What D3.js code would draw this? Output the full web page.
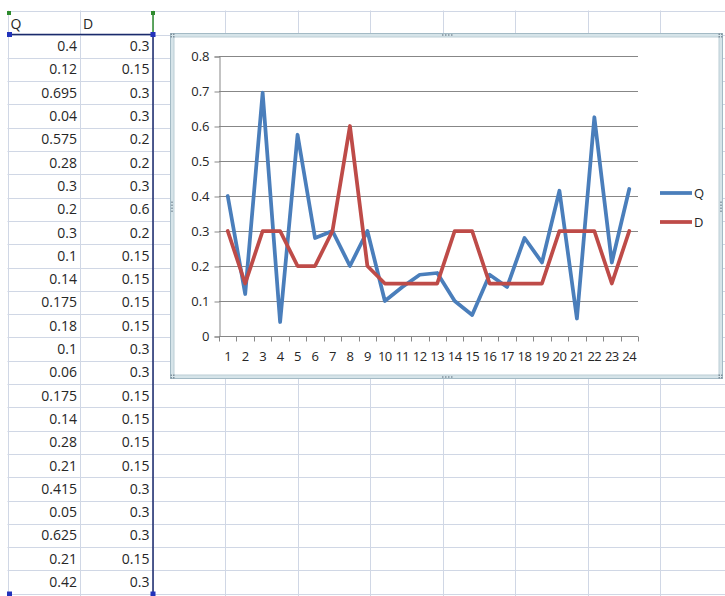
<!DOCTYPE html>
<html>
<head>
<meta charset="utf-8">
<script src="https://cdn.jsdelivr.net/npm/d3@7"></script>
<style>
  html, body { margin: 0; padding: 0; background: #fff; }
  svg { display: block; }
  text { font-family: "Open Sans", "DejaVu Sans", sans-serif; }
</style>
</head>
<body>
<svg id="sheet" width="725" height="596"></svg>
<script>
// Worksheet data: column headers and the two series
const headers = ["Q", "D"];
const categories = d3.range(1, 25);
const qValues = [0.4, 0.12, 0.695, 0.04, 0.575, 0.28, 0.3, 0.2, 0.3, 0.1, 0.14, 0.175,
                 0.18, 0.1, 0.06, 0.175, 0.14, 0.28, 0.21, 0.415, 0.05, 0.625, 0.21, 0.42];
const dValues = [0.3, 0.15, 0.3, 0.3, 0.2, 0.2, 0.3, 0.6, 0.2, 0.15, 0.15, 0.15,
                 0.15, 0.3, 0.3, 0.15, 0.15, 0.15, 0.15, 0.3, 0.3, 0.3, 0.15, 0.3];
const yTicks = [0, 0.1, 0.2, 0.3, 0.4, 0.5, 0.6, 0.7, 0.8];

const series = [
  { name: "Q", values: qValues, color: "#4A7EBB" },
  { name: "D", values: dValues, color: "#BE4B48" }
];

const textColor = "#262626";
const svg = d3.select("#sheet");

// ---- spreadsheet grid ----
const colWidth = 72.5, gridLeft = 7.5;
const colEdges = d3.range(0, 11).map(i => gridLeft + i * colWidth);
const rowTop = 10.5, headerBottom = 34.5, rowH = 23.3;
const rowScale = d3.scaleBand().domain(d3.range(24)).range([headerBottom, headerBottom + 24 * rowH]);

const grid = svg.append("g").attr("stroke", "#D0D7E5").attr("stroke-width", 1);
grid.selectAll("line.v").data(colEdges).join("line")
  .attr("x1", d => Math.round(d) + 0.5).attr("x2", d => Math.round(d) + 0.5)
  .attr("y1", rowTop).attr("y2", 596);
const rowEdges = [rowTop, headerBottom].concat(d3.range(1, 25).map(i => headerBottom + i * rowH));
grid.selectAll("line.h").data(rowEdges).join("line")
  .attr("x1", gridLeft).attr("x2", 725)
  .attr("y1", d => Math.round(d) + 0.5).attr("y2", d => Math.round(d) + 0.5);

// header cells
svg.append("g").selectAll("text").data(headers).join("text")
  .attr("x", (d, i) => colEdges[i] + 3)
  .attr("y", 29)
  .attr("font-size", 14).attr("fill", textColor)
  .text(d => d);

// numeric cells, right aligned
const cols = [qValues, dValues];
cols.forEach((vals, ci) => {
  svg.append("g").selectAll("text").data(vals).join("text")
    .attr("x", colEdges[ci + 1] - 3)
    .attr("y", (d, i) => rowScale(i) + rowH / 2 + 5)
    .attr("text-anchor", "end")
    .attr("font-size", 14).attr("fill", textColor)
    .text(d => String(d));
});

// range highlight: series names (green) and values (blue)
const selR = colEdges[2] + 0.5;
svg.append("line").attr("x1", selR).attr("x2", selR).attr("y1", 12).attr("y2", headerBottom)
  .attr("stroke", "#2E8B2E").attr("stroke-width", 1.5);
svg.append("path")
  .attr("d", `M${gridLeft},${headerBottom}H${selR}V${headerBottom + 24 * rowH}`)
  .attr("fill", "none").attr("stroke", "#1A2A6C").attr("stroke-width", 1.5);
[[gridLeft + 1.5, 13], [selR, 13]].forEach(p =>
  svg.append("rect").attr("x", p[0] - 2).attr("y", p[1] - 2).attr("width", 4).attr("height", 4).attr("fill", "#2E8B2E"));
[[gridLeft + 2, headerBottom], [selR, headerBottom], [gridLeft + 2, 594], [selR, 594]].forEach(p =>
  svg.append("rect").attr("x", p[0] - 2.5).attr("y", p[1] - 2.5).attr("width", 5).attr("height", 5).attr("fill", "#2233BB"));

// ---- chart object ----
const frame = { x: 170.5, y: 33.5, w: 552, h: 345 };
svg.append("rect").attr("x", frame.x).attr("y", frame.y).attr("width", frame.w).attr("height", frame.h)
  .attr("fill", "#D6E4E9").attr("stroke", "#A3BAC5");
svg.append("rect").attr("x", frame.x + 3.5).attr("y", frame.y + 3.5).attr("width", frame.w - 7).attr("height", frame.h - 7)
  .attr("fill", "#fff").attr("stroke", "#BBCDD5");

// resize handle dots
const dotColor = "#7F909C";
function dots(cx, cy, vertical) {
  d3.range(4).forEach(k => {
    svg.append("rect")
      .attr("x", vertical ? cx - 0.75 : cx - 4.5 + k * 3)
      .attr("y", vertical ? cy - 4.5 + k * 3 : cy - 0.75)
      .attr("width", 1.5).attr("height", 1.5).attr("fill", dotColor);
  });
}
dots(frame.x + frame.w / 2, frame.y + 1.5, false);
dots(frame.x + frame.w / 2, frame.y + frame.h - 1.5, false);
dots(frame.x + 1.5, frame.y + frame.h / 2, true);
dots(frame.x + frame.w - 1.5, frame.y + frame.h / 2, true);
[[frame.x + 2, frame.y + 2], [frame.x + frame.w - 2, frame.y + 2],
 [frame.x + 2, frame.y + frame.h - 2], [frame.x + frame.w - 2, frame.y + frame.h - 2]].forEach(p => {
  [[0, 0], [2.5, 0], [0, 2.5], [2.5, 2.5]].forEach(o =>
    svg.append("rect").attr("x", p[0] - 2 + o[0]).attr("y", p[1] - 2 + o[1])
      .attr("width", 1.5).attr("height", 1.5).attr("fill", dotColor));
});

// plot area
const plot = { left: 219, right: 638, top: 56, bottom: 336 };
const x = d3.scaleBand().domain(categories).range([plot.left, plot.right]).padding(0);
const y = d3.scaleLinear().domain([0, 0.8]).range([plot.bottom, plot.top]);

const chart = svg.append("g");

// horizontal gridlines
chart.append("g").selectAll("line").data(yTicks.filter(t => t > 0)).join("line")
  .attr("x1", plot.left).attr("x2", plot.right)
  .attr("y1", d => Math.round(y(d)) + 0.5).attr("y2", d => Math.round(y(d)) + 0.5)
  .attr("stroke", "#878787").attr("stroke-width", 1);

// y axis
const yAxis = chart.append("g")
  .attr("transform", `translate(${plot.left + 0.5},0.5)`)
  .call(d3.axisLeft(y).tickValues(yTicks).tickFormat(d => d === 0 ? "0" : d3.format(".1f")(d)).tickSize(5).tickPadding(5));
yAxis.select(".domain").attr("stroke", "#878787");
yAxis.selectAll(".tick line").attr("stroke", "#878787");
yAxis.selectAll(".tick text").attr("font-size", 13).attr("fill", textColor)
  .attr("font-family", "'Open Sans', sans-serif");

// x axis with ticks on category boundaries
const xAxis = chart.append("g")
  .attr("transform", `translate(0,${plot.bottom + 0.5})`)
  .call(d3.axisBottom(x).tickSize(0).tickPadding(15));
xAxis.select(".domain").attr("stroke", "#878787").attr("d", `M${plot.left},0H${plot.right}`);
xAxis.selectAll(".tick text").attr("font-size", 13).attr("fill", textColor)
  .attr("font-family", "'Open Sans', sans-serif").attr("letter-spacing", -0.5);
const boundaries = categories.map(c => x(c)).concat([plot.right]);
xAxis.append("g").selectAll("line").data(boundaries).join("line")
  .attr("x1", d => Math.round(d) + 0.5).attr("x2", d => Math.round(d) + 0.5)
  .attr("y1", 0).attr("y2", 5).attr("stroke", "#878787");

// series lines
const line = d3.line()
  .x((d, i) => x(categories[i]) + x.bandwidth() / 2)
  .y(d => y(d));
chart.append("g").selectAll("path").data(series).join("path")
  .attr("d", s => line(s.values))
  .attr("fill", "none")
  .attr("stroke", s => s.color)
  .attr("stroke-width", 3.75)
  .attr("stroke-linejoin", "round")
  .attr("stroke-linecap", "round");

// legend
const legend = chart.append("g").selectAll("g").data(series).join("g")
  .attr("transform", (d, i) => `translate(660,${193 + i * 29})`);
legend.append("line").attr("x1", 0).attr("x2", 32).attr("y1", 0).attr("y2", 0)
  .attr("stroke", d => d.color).attr("stroke-width", 3.75);
legend.append("text").attr("x", 34).attr("y", 4.5)
  .attr("font-size", 13).attr("fill", textColor).text(d => d.name);
</script>
</body>
</html>
